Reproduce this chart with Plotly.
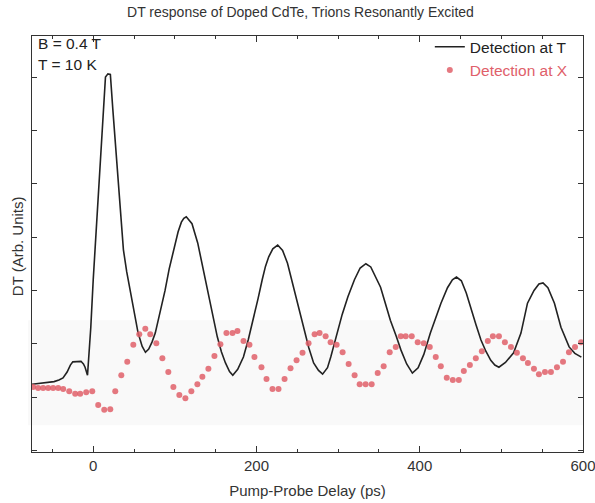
import plotly.graph_objects as go

# Detection at T (black line): delay (ps), DT (arb. units)
t_x = [-75, -70, -62, -55, -48, -42, -37, -32, -28, -25, -20, -15, -12, -10, -7,
       -3, 0, 4, 8, 12, 15, 18, 21, 24, 28, 32, 37, 41, 45, 50, 55, 60, 64,
       68, 72, 76, 82, 88, 93, 97, 101, 104, 108, 111,
       114, 121, 128, 134, 140, 146, 152, 157, 162, 167, 171, 177, 184, 190, 196,
       202, 207, 211, 215, 220, 226, 232, 238, 243, 248, 253, 258, 264, 270, 276,
       281, 287, 291, 299, 305, 312, 320, 327, 334, 340, 346, 352, 358, 364, 371,
       377, 384, 391, 398, 405, 413, 420, 426, 434, 440, 445, 451, 457, 463, 469,
       475, 481, 487, 492, 497, 505, 515, 524, 532, 540, 546, 551, 557, 565, 573,
       583, 590, 598]
t_y = [0.24, 0.25, 0.26, 0.28, 0.29, 0.32, 0.36, 0.47, 0.60, 0.66, 0.67, 0.67, 0.62, 0.56, 0.41,
       1.30, 2.20, 3.20, 4.30, 5.40, 6.00, 6.06, 6.05, 5.40, 4.60, 3.80, 2.76, 2.35, 2.00, 1.60, 1.20, 0.95, 0.84,
       0.90, 1.03, 1.20, 1.60, 2.00, 2.40, 2.66, 2.90, 3.10, 3.28, 3.35,
       3.38, 3.25, 2.89, 2.45, 1.95, 1.52, 1.13, 0.85, 0.64, 0.48, 0.41, 0.52, 0.75, 1.08, 1.44,
       1.85, 2.20, 2.45, 2.63, 2.78, 2.85, 2.75, 2.51, 2.20, 1.88, 1.57, 1.26, 0.93, 0.64, 0.50,
       0.43, 0.55, 0.75, 1.20, 1.55, 1.88, 2.20, 2.42, 2.50, 2.44, 2.25, 2.06, 1.75, 1.44, 1.15,
       0.88, 0.62, 0.45, 0.55, 0.80, 1.20, 1.50, 1.76, 2.05, 2.20, 2.25, 2.18, 1.95, 1.63, 1.35,
       1.07, 0.86, 0.69, 0.60, 0.56, 0.65, 0.83, 1.20, 1.76, 2.00, 2.12, 2.14, 2.05, 1.76, 1.31,
       0.94, 0.82, 0.75]

# Detection at X (red dots)
x_x = [-73.6, -67.5, -61.4, -55.2, -49.1, -42.9, -36.8, -29.4, -22.1, -16.0, -8.6, -1.2,
       6.1, 13.5, 20.9, 27.0, 34.4, 41.7, 49.1, 56.4, 63.8, 69.9, 77.3, 84.7, 92.0, 98.2,
       105.5, 112.9, 120.2, 127.6, 133.7, 141.1, 148.5, 155.8, 163.2, 170.6, 176.7, 184.1,
       191.4, 197.5, 206.1, 212.3, 219.6, 227.0, 234.4, 241.7, 249.1, 256.4, 263.8, 271.2,
       277.3, 284.7, 290.8, 298.2, 305.5, 312.9, 320.2, 326.4, 333.7, 341.1, 348.5, 355.8,
       363.2, 370.6, 376.7, 382.8, 390.2, 397.5, 404.9, 412.3, 419.6, 425.8, 433.1, 440.5,
       447.9, 454.0, 461.4, 468.7, 476.1, 483.4, 489.6, 497.0, 504.3, 511.7, 519.0, 526.4,
       532.5, 539.9, 546.0, 553.4, 560.7, 568.1, 575.5, 582.8, 590.2, 597.6]
x_y = [0.19, 0.17, 0.17, 0.17, 0.17, 0.17, 0.15, 0.11, 0.06, 0.06, 0.09, 0.11,
       -0.15, -0.24, -0.23, 0.11, 0.41, 0.66, 0.98, 1.18, 1.28, 1.18, 1.01, 0.73, 0.47, 0.19,
       0.04, -0.02, 0.11, 0.24, 0.38, 0.53, 0.77, 0.99, 1.20, 1.20, 1.24, 1.05,
       0.98, 0.75, 0.56, 0.34, 0.15, 0.15, 0.34, 0.54, 0.69, 0.83, 1.01, 1.18,
       1.20, 1.14, 1.03, 0.98, 0.84, 0.62, 0.41, 0.24, 0.24, 0.24, 0.45, 0.58,
       0.84, 0.94, 1.14, 1.14, 1.14, 1.03, 1.01, 0.94, 0.75, 0.58, 0.36, 0.32,
       0.32, 0.49, 0.60, 0.73, 0.86, 1.05, 1.14, 1.14, 1.03, 0.94, 0.83, 0.73,
       0.64, 0.53, 0.43, 0.47, 0.47, 0.56, 0.66, 0.84, 0.94, 1.03]

x_ticks = [0, 200, 400, 600]

FONT = "Liberation Sans, Arial, sans-serif"
RED = "#e0606a"

fig = go.Figure()
fig.add_shape(type="rect", xref="paper", yref="y", x0=-0.007, x1=1.0, y0=-0.53, y1=1.44,
              fillcolor="#f9f9f9", line_width=0, layer="below")
fig.add_trace(go.Scatter(x=t_x, y=t_y, mode="lines", name="Detection at T",
                         line=dict(color="#222222", width=1.6)))
fig.add_trace(go.Scatter(x=x_x, y=x_y, mode="markers",
                         name="<span style='color:%s'>Detection at X</span>" % RED,
                         marker=dict(color=RED, size=6, opacity=0.85)))

fig.update_layout(
    width=595, height=503,
    margin=dict(l=32, r=12, t=36, b=51, autoexpand=False),
    paper_bgcolor="white", plot_bgcolor="white",
    font=dict(family=FONT, size=15, color="#333333"),
    title=dict(text="DT response of Doped CdTe, Trions Resonantly Excited",
               x=0.505, xanchor="center", y=0.976, yanchor="middle",
               font=dict(size=14, color="#333333")),
    legend=dict(x=0.722, y=1.014, xanchor="left", yanchor="top",
                bgcolor="rgba(0,0,0,0)", font=dict(size=15.5, color="#222222"),
                itemwidth=30, tracegroupgap=0),
    showlegend=True,
)
fig.update_xaxes(range=[-75, 600], tickvals=x_ticks, ticktext=[str(v) for v in x_ticks],
                 ticks="inside", ticklen=6, tickcolor="#333", showline=True, linecolor="#333",
                 linewidth=1, mirror="ticks", showgrid=False, zeroline=False, automargin=False,
                 ticklabeloverflow="allow",
                 minor=dict(dtick=50, tick0=0, ticks="inside", ticklen=3, tickcolor="#333"),
                 title=dict(text="Pump-Probe Delay (ps)", standoff=12, font=dict(size=15)),
                 tickfont=dict(size=15))
fig.update_yaxes(range=[-1.03, 6.77], dtick=1, tick0=0, showticklabels=False,
                 ticks="inside", ticklen=5, tickcolor="#333", showline=True, linecolor="#333",
                 linewidth=1, mirror="ticks", showgrid=False, zeroline=False, automargin=False,
                 title=dict(text=""))
fig.add_annotation(text="DT (Arb. Units)", xref="paper", yref="paper", x=-0.027, y=0.495,
                   textangle=-90, showarrow=False, xanchor="center", yanchor="middle",
                   font=dict(size=15, color="#333333"))
fig.add_annotation(text="B = 0.4 T", xref="paper", yref="paper", x=0.008, y=0.983,
                   showarrow=False, xanchor="left", yanchor="middle",
                   font=dict(size=15.5, color="#222222"))
fig.add_annotation(text="T = 10 K", xref="paper", yref="paper", x=0.008, y=0.932,
                   showarrow=False, xanchor="left", yanchor="middle",
                   font=dict(size=15.5, color="#222222"))

fig.write_html("out.html", config={"displayModeBar": False},
               post_script="document.body.style.margin='0';")
